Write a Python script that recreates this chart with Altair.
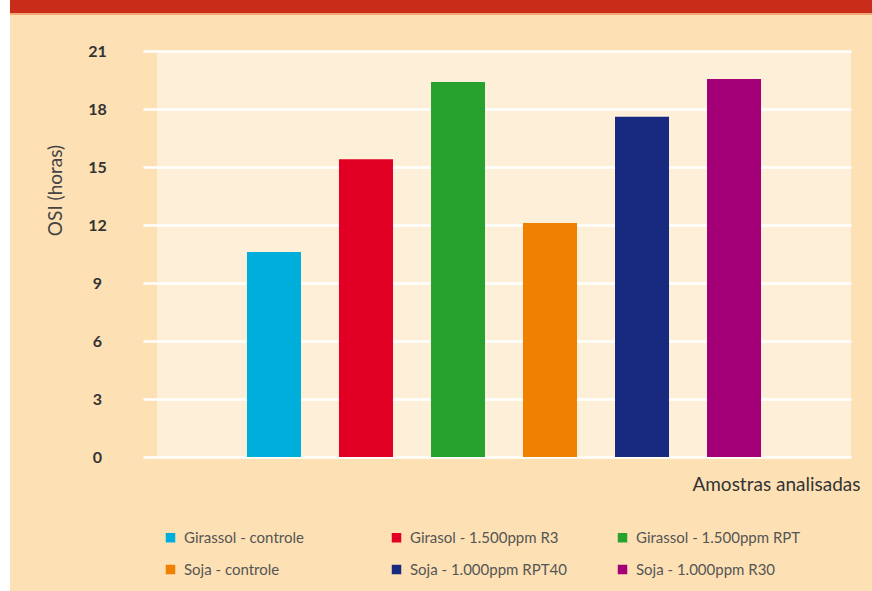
import altair as alt
import pandas as pd

# Oxidative stability index (OSI, hours) per sample
amostras = [
    "Girassol - controle",
    "Girasol - 1.500ppm R3",
    "Girassol - 1.500ppm RPT",
    "Soja - controle",
    "Soja - 1.000ppm RPT40",
    "Soja - 1.000ppm R30",
]
osi_horas = [10.6, 15.4, 19.4, 12.1, 17.6, 19.55]
cores = ["#00AEDB", "#E10024", "#28A22F", "#F08000", "#182A80", "#A30078"]
y_ticks = [0, 3, 6, 9, 12, 15, 18, 21]

W, H = 694, 406
PAD = {"left": 157, "top": 51, "right": 21, "bottom": 134}

df = pd.DataFrame({"amostra": amostras, "osi": osi_horas})

FONT = "Lato"

bars = (
    alt.Chart(df)
    .mark_bar()
    .encode(
        x=alt.X(
            "amostra:N",
            sort=amostras,
            scale=alt.Scale(paddingInner=0.413, paddingOuter=0.978),
            axis=alt.Axis(
                labels=False, ticks=False, domain=False, grid=False,
                title="Amostras analisadas",
                titleX=703, titleY=33, titleAlign="right", titleBaseline="alphabetic",
                titleFont=FONT, titleFontSize=19, titleFontWeight="normal", titleColor="#333333",
            ),
        ),
        y=alt.Y(
            "osi:Q",
            scale=alt.Scale(domain=[0, 21], nice=False),
            axis=alt.Axis(
                values=y_ticks, domain=False,
                grid=True, gridColor="#FFFFFF", gridWidth=2.5, gridOpacity=1,
                ticks=True, tickColor="#FFFFFF", tickWidth=2.5, tickSize=14,
                labelAlign="center", labelPadding=46, labelBaseline="middle",
                labelFont=FONT, labelFontSize=16, labelFontWeight="bold", labelColor="#333333",
                title="OSI (horas)", titleX=-102, titleY=139, titleAngle=-90,
                titleAlign="center", titleBaseline="middle",
                titleFont=FONT, titleFontSize=19, titleFontWeight="normal", titleColor="#444444",
            ),
        ),
        color=alt.Color(
            "amostra:N",
            sort=amostras,
            scale=alt.Scale(domain=amostras, range=cores),
            legend=alt.Legend(
                title=None, orient="none", legendX=6, legendY=479,
                direction="horizontal",
                columns=3, gridAlign="all", columnPadding=40, rowPadding=16,
                symbolType="square", symbolSize=90, symbolStrokeWidth=0, symbolOpacity=1,
                labelFont=FONT, labelFontSize=15, labelColor="#555555", labelOffset=6,
                labelLimit=300,
            ),
        ),
    )
)

one = alt.Data(values=[{}])

# page decoration: white left margin and red header band
margem = alt.Chart(one).mark_rect(color="#FFFFFF").encode(
    x=alt.value(-157), x2=alt.value(-147), y=alt.value(-51), y2=alt.value(H + 134)
)
faixa = alt.Chart(one).mark_rect(color="#C92C18").encode(
    x=alt.value(-147), x2=alt.value(W + 21), y=alt.value(-51), y2=alt.value(-38)
)
filete = alt.Chart(one).mark_rect(color="#F2A776").encode(
    x=alt.value(-147), x2=alt.value(W + 21), y=alt.value(-38), y2=alt.value(-36)
)

chart = (
    alt.layer(margem, faixa, filete, bars)
    .properties(
        width=W, height=H,
        autosize=alt.AutoSizeParams(type="none"),
        padding=PAD,
        background="#FDE1B4",
    )
    .configure_view(fill="#FDEFD8", stroke=None)
)

chart.save("out.html", embed_options={"renderer": "svg", "actions": False})
